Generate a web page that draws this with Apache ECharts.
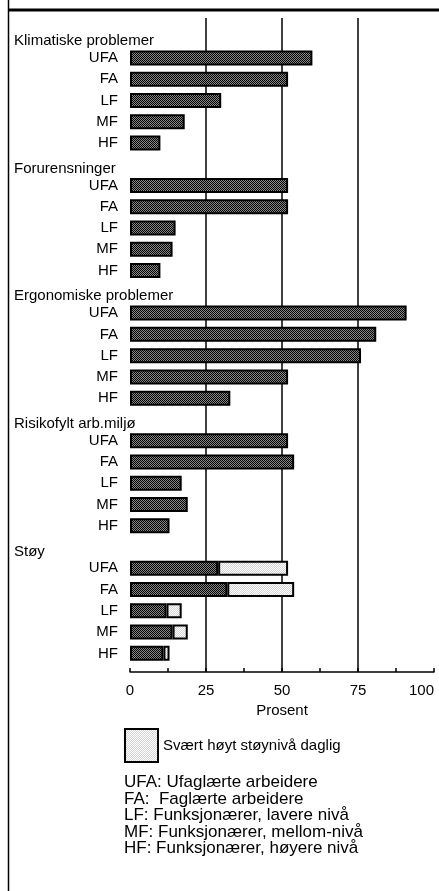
<!DOCTYPE html>
<html>
<head>
<meta charset="utf-8">
<script src="https://cdn.jsdelivr.net/npm/echarts@6/dist/echarts.min.js"></script>
<style>
  html, body { margin: 0; padding: 0; background: #fff; }
  #chart { width: 439px; height: 891px; }
</style>
</head>
<body>
<div id="chart"></div>
<script>
  const groups = ["Klimatiske problemer", "Forurensninger", "Ergonomiske problemer", "Risikofylt arb.miljø", "Støy"];
  const levels = ["UFA", "FA", "LF", "MF", "HF"];
  // prosent per gruppe (UFA, FA, LF, MF, HF)
  const klima = [60, 52, 30, 18, 10];
  const forurens = [52, 52, 15, 14, 10];
  const ergo = [91, 81, 76, 52, 33];
  const risiko = [52, 54, 17, 19, 13];
  const stoy = [29, 32, 12, 14, 11];
  const stoyHoyt = [23, 22, 5, 5, 2];
  const xTicks = [0, 25, 50, 75, 100];
  const notes = [
    "UFA: Ufaglærte arbeidere",
    "FA:  Faglærte arbeidere",
    "LF: Funksjonærer, lavere nivå",
    "MF: Funksjonærer, mellom-nivå",
    "HF: Funksjonærer, høyere nivå",
  ];

  const font = "'Liberation Sans', Arial, sans-serif";

  function makePattern(a, b) {
    const c = document.createElement("canvas");
    c.width = 2;
    c.height = 2;
    const ctx = c.getContext("2d");
    ctx.fillStyle = b;
    ctx.fillRect(0, 0, 2, 2);
    ctx.fillStyle = a;
    ctx.fillRect(0, 0, 1, 1);
    ctx.fillRect(1, 1, 1, 1);
    return { image: c, repeat: "repeat" };
  }
  const darkFill = makePattern("#000000", "#888888");
  const lightFill = makePattern("#ffffff", "#d4d4d4");

  // kategorier: overskrift + fem yrkesgrupper per gruppe
  const values = [klima, forurens, ergo, risiko, stoy];
  const cats = [];
  const baseData = [];
  const highData = [];
  groups.forEach((g, gi) => {
    cats.push(g);
    baseData.push(null);
    highData.push(null);
    levels.forEach((l, li) => {
      cats.push(g + "|" + l);
      baseData.push(values[gi][li]);
      highData.push(gi === 4 ? stoyHoyt[li] : null);
    });
  });

  const chart = echarts.init(document.getElementById("chart"));
  const option = {
    backgroundColor: "#fff",
    animation: false,
    textStyle: { fontFamily: font, color: "#000" },
    grid: [
      { left: 130, right: 5, top: 18, bottom: 219, outerBoundsMode: "none" },
      { left: 130, right: 5, top: 26, bottom: 227, outerBoundsMode: "none" },
    ],
    legend: {
      data: ["Svært høyt støynivå daglig"],
      left: 124,
      top: 728,
      padding: 0,
      icon: "rect",
      itemWidth: 33,
      itemHeight: 33,
      itemGap: 5,
      itemStyle: { borderColor: "#000", borderWidth: 2 },
      textStyle: { fontFamily: font, fontSize: 15, color: "#000" },
      selectedMode: false,
    },
    xAxis: [
      {
        gridIndex: 0,
        type: "value",
        min: 0,
        max: 100,
        interval: 25,
        name: "Prosent",
        nameLocation: "middle",
        nameGap: 29,
        nameTextStyle: { fontFamily: font, fontSize: 15, color: "#000" },
        axisLine: { show: true, lineStyle: { color: "#000", width: 1.5 } },
        axisTick: { show: true, inside: true, length: 4, lineStyle: { color: "#000", width: 1.5 } },
        minorTick: { show: true, splitNumber: 2, length: 4, lineStyle: { color: "#000", width: 1.5 } },
        splitLine: { show: true, showMinLine: false, showMaxLine: false, lineStyle: { color: "#000", width: 1.5 } },
        axisLabel: {
          fontFamily: font,
          fontSize: 15,
          color: "#000",
          margin: 11,
          alignMaxLabel: "right",
          formatter: (v) => (xTicks.includes(v) ? String(v) : ""),
        },
      },
      { gridIndex: 1, type: "value", min: 0, max: 100, show: false },
    ],
    yAxis: [
      { gridIndex: 0, type: "value", show: false },
      {
        gridIndex: 1,
        type: "category",
        data: cats,
        inverse: true,
        axisLine: { show: false },
        axisTick: { show: false },
        axisLabel: {
          interval: 0,
          margin: 12,
          fontFamily: font,
          fontSize: 15,
          color: "#000",
          formatter: (v) => {
            const p = v.split("|");
            return p.length > 1 ? p[1] : "{h|" + v + "}";
          },
          rich: {
            h: { width: 104, align: "left", fontFamily: font, fontSize: 15, color: "#000", padding: [9, 0, 0, 0] },
          },
        },
      },
    ],
    series: [
      {
        name: "Andel",
        type: "bar",
        xAxisIndex: 1,
        yAxisIndex: 1,
        stack: "a",
        barWidth: 15,
        itemStyle: { color: darkFill, borderColor: "#000", borderWidth: 2 },
        data: baseData,
      },
      {
        name: "Svært høyt støynivå daglig",
        type: "bar",
        xAxisIndex: 1,
        yAxisIndex: 1,
        stack: "a",
        barWidth: 15,
        itemStyle: { color: lightFill, borderColor: "#000", borderWidth: 2 },
        data: highData,
      },
    ],
    graphic: [
      { type: "line", shape: { x1: 8.5, y1: 0, x2: 8.5, y2: 891 }, style: { stroke: "#000", lineWidth: 1.5 } },
      { type: "line", shape: { x1: 8, y1: 10, x2: 439, y2: 10 }, style: { stroke: "#000", lineWidth: 3 } },
      {
        type: "text",
        left: 124,
        top: 774,
        style: { text: notes.join("\n"), fontFamily: font, fontSize: 17, lineHeight: 16.5, fill: "#000" },
      },
    ],
  };
  chart.setOption(option);
</script>
</body>
</html>
